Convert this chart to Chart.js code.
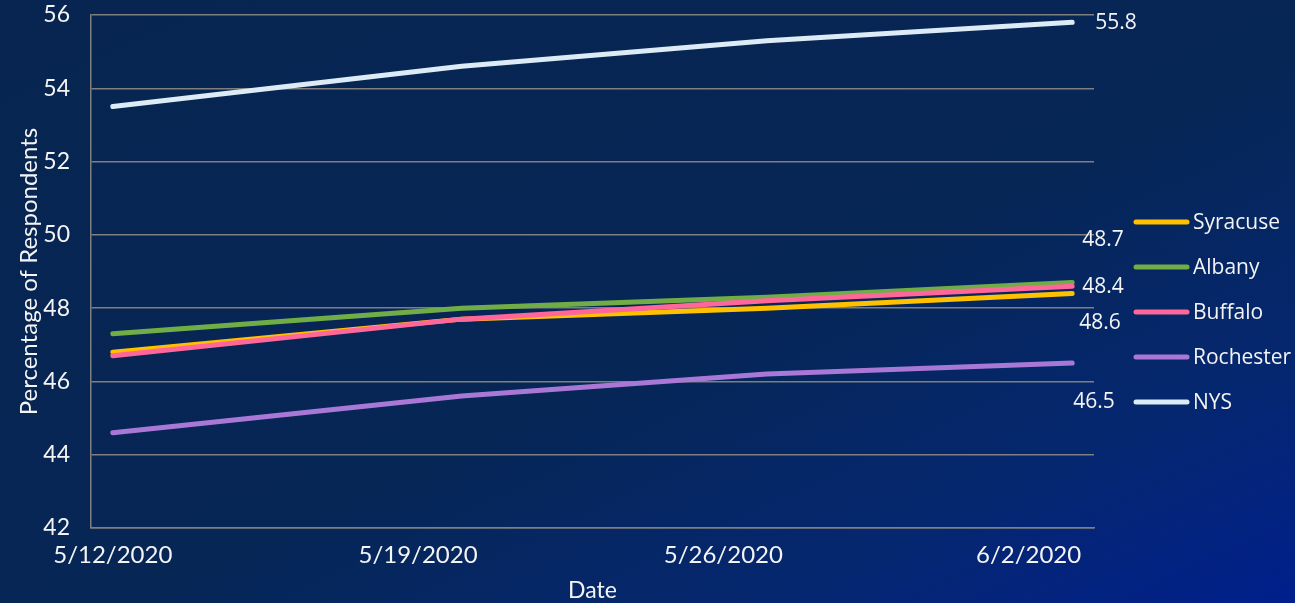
<!DOCTYPE html>
<html>
<head>
<meta charset="utf-8">
<script src="https://cdn.jsdelivr.net/npm/chart.js@4.4.1/dist/chart.umd.min.js"></script>
<style>
  html, body { margin: 0; padding: 0; }
  body {
    width: 1295px; height: 603px; overflow: hidden;
    background: linear-gradient(to bottom right, #072550 0%, #062656 55%, #052770 80%, #011f8c 100%);
  }
  #wrap { position: relative; width: 1295px; height: 603px; }
</style>
</head>
<body>
<div id="wrap"><canvas id="c" width="1295" height="603"></canvas></div>
<script>
// ---- data ----
const tickDates = ["2020-05-12", "2020-05-19", "2020-05-26", "2020-06-02"];
const tickLabels = ["5/12/2020", "5/19/2020", "5/26/2020", "6/2/2020"];
const pointDates = ["2020-05-12", "2020-05-20", "2020-05-27", "2020-06-03"];
const seriesNames = ["Syracuse", "Albany", "Buffalo", "Rochester", "NYS"];
const syracuse = [46.8, 47.7, 48.0, 48.4];
const albany = [47.3, 48.0, 48.3, 48.7];
const buffalo = [46.7, 47.7, 48.2, 48.6];
const rochester = [44.6, 45.6, 46.2, 46.5];
const nys = [53.5, 54.6, 55.3, 55.8];
const yTicks = [42, 44, 46, 48, 50, 52, 54, 56];

// ---- styles ----
const colors = ["#FFC000", "#70AD47", "#FF6699", "#A978D6", "#DDEBF7"];
const labelOffsets = [[10, -6], [10, -42], [7, 37], [1, 39], [23, 1]];
const textColor = "#F4F4F4";
const gridColor = "#7F7F7F";

const DAY = 86400000;
const base = Date.parse(tickDates[0]);
const toDay = d => Math.round((Date.parse(d) - base) / DAY);
const tickDays = tickDates.map(toDay);
const pointDays = pointDates.map(toDay);

const seriesValues = [syracuse, albany, buffalo, rochester, nys];
const datasets = seriesNames.map((name, i) => ({
  label: name,
  data: seriesValues[i].map((v, j) => ({ x: pointDays[j], y: v })),
  borderColor: colors[i],
  backgroundColor: colors[i],
  borderWidth: 5,
  borderCapStyle: 'round',
  borderJoinStyle: 'round',
  pointRadius: 0,
  tension: 0,
  order: -i
}));

const endLabels = {
  id: 'endLabels',
  afterDatasetsDraw(chart) {
    const ctx = chart.ctx;
    ctx.save();
    ctx.font = '21px "Open Sans"';
    ctx.fillStyle = textColor;
    ctx.textAlign = 'left';
    ctx.textBaseline = 'middle';
    chart.data.datasets.forEach((ds, i) => {
      const meta = chart.getDatasetMeta(i);
      const pt = meta.data[meta.data.length - 1];
      const v = ds.data[ds.data.length - 1].y;
      ctx.fillText(v.toFixed(1), pt.x + labelOffsets[i][0], pt.y + labelOffsets[i][1]);
    });
    ctx.restore();
  }
};

const sideLegend = {
  id: 'sideLegend',
  afterDraw(chart) {
    const ctx = chart.ctx;
    ctx.save();
    const x0 = 1136, x1 = 1187, tx = 1193, y0 = 222, gap = 45;
    ctx.font = '21px "Open Sans"';
    ctx.textAlign = 'left';
    ctx.textBaseline = 'middle';
    chart.data.datasets.forEach((ds, i) => {
      const y = y0 + i * gap;
      ctx.strokeStyle = ds.borderColor;
      ctx.lineWidth = 5;
      ctx.lineCap = 'round';
      ctx.beginPath();
      ctx.moveTo(x0, y);
      ctx.lineTo(x1, y);
      ctx.stroke();
      ctx.fillStyle = textColor;
      ctx.fillText(ds.label, tx, y + 1);
    });
    ctx.restore();
  }
};

new Chart(document.getElementById('c'), {
  type: 'line',
  data: { datasets },
  options: {
    responsive: false,
    animation: false,
    devicePixelRatio: 1,
    layout: { padding: { left: 0, top: 15, right: 201, bottom: 0 } },
    plugins: { legend: { display: false }, tooltip: { enabled: false } },
    scales: {
      x: {
        type: 'linear',
        min: tickDays[0] - 0.5,
        max: pointDays[pointDays.length - 1] + 0.5,
        afterBuildTicks(axis) { axis.ticks = tickDays.map(v => ({ value: v })); },
        afterFit(axis) { axis.height = 75; },
        grid: { display: false, drawTicks: false },
        border: { display: true, color: gridColor, width: 1.5 },
        ticks: {
          padding: 13,
          color: textColor,
          font: { family: 'Lato', size: 24 },
          maxRotation: 0,
          autoSkip: false,
          callback(value) {
            const k = tickDays.indexOf(value);
            return k >= 0 ? tickLabels[k] : '';
          }
        },
        title: {
          display: true, text: 'Date', color: textColor,
          font: { family: 'Lato', size: 23 },
          padding: { top: 0, bottom: -1 }
        }
      },
      y: {
        min: yTicks[0],
        max: yTicks[yTicks.length - 1],
        afterBuildTicks(axis) { axis.ticks = yTicks.map(v => ({ value: v })); },
        afterFit(axis) { axis.width = 91; },
        grid: { color: gridColor, lineWidth: 1.5, drawTicks: true, tickLength: 21, tickColor: 'rgba(0,0,0,0)' },
        border: { display: true, color: gridColor, width: 1.5 },
        ticks: {
          padding: 0,
          color: textColor,
          font: { family: 'Lato', size: 23 }
        },
        title: {
          display: true, text: 'Percentage of Respondents', color: textColor,
          font: { family: 'Lato', size: 24 },
          padding: { top: 15, bottom: 0 }
        }
      }
    }
  },
  plugins: [endLabels, sideLegend]
});
</script>
</body>
</html>
